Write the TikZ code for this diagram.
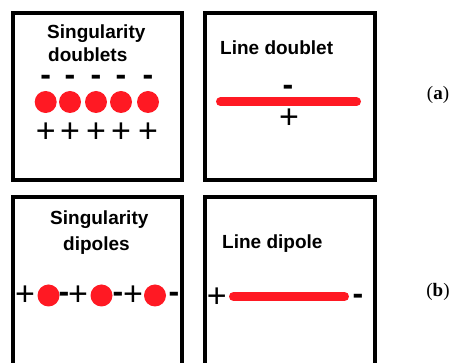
\documentclass[tikz,border=0pt]{standalone}
\usepackage{fontspec}
\newfontfamily\arialf{Liberation Sans}
\newfontfamily\seriff{Liberation Serif}
\definecolor{dotred}{RGB}{255,25,35}
\tikzset{
  frame/.style={draw=black, line width=4pt},
  title/.style={anchor=base west, inner sep=0pt, font=\arialf\bfseries\fontsize{19}{19}\selectfont},
  plussign/.style={inner sep=0pt, font=\arialf\fontsize{34}{34}\selectfont},
  minussign/.style={anchor=north, inner sep=0pt, font=\arialf\bfseries\fontsize{32}{32}\selectfont},
  dot/.style={circle, fill=dotred, minimum size=22pt, inner sep=0pt},
  redline/.style={draw=dotred, line width=9pt, line cap=round},
  panellabel/.style={inner sep=0pt, font=\seriff\fontsize{19}{19}\selectfont}
}
\begin{document}
\begin{tikzpicture}[x=1pt,y=-1pt]
\useasboundingbox (0,0) rectangle (456,363);
\clip (0,0) rectangle (456,363);
\fill[white] (0,0) rectangle (456,363);
% frames
\draw[frame] (12.5,13.5) rectangle (181.5,180.5);
\draw[frame] (204.5,13.5) rectangle (374.5,180.5);
\draw[frame] (12.5,197.5) rectangle (181.5,365);
\draw[frame] (204.5,197.5) rectangle (374.5,365);
% box 1
\node[title] (t1a) at (47,39) {Singularity};
\node[title] (t1b) at (48,61.5) {doublets};
\foreach \x [count=\i] in {45.7,70,96,121,148}{
  \node[minussign] (m1\i) at (\x,75) {-};
  \node[dot] (d1\i) at (\x,102) {};
  \node[plussign] (p1\i) at (\x,133) {+};
}
% box 2
\node[title] (t2) at (220,55) {Line doublet};
\coordinate (l2a) at (220.5,101.7);
\coordinate (l2b) at (356.5,101.7);
\draw[redline] (l2a) -- (l2b);
\node[minussign] (m2) at (288,85) {-};
\node[plussign] (p2) at (289,119) {+};
% box 3
\node[title] (t3a) at (50,225) {Singularity};
\node[title] (t3b) at (63,250.5) {dipoles};
\foreach \xp/\xd/\xm [count=\i] in {25/48.5/64, 78/101.5/118, 133/155/174}{
  \node[plussign] (p3\i) at (\xp,295.5) {+};
  \node[dot] (d3\i) at (\xd,295.5) {};
  \node[minussign] (m3\i) at (\xm,292) {-};
}
% box 4
\node[title] (t4) at (222,248.3) {Line dipole};
\coordinate (l4a) at (233.5,296.5);
\coordinate (l4b) at (344.5,296.5);
\draw[redline] (l4a) -- (l4b);
\node[plussign] (p4) at (216.7,297.5) {+};
\node[minussign] (m4) at (358,294.5) {-};
% panel labels
\node[panellabel] (la) at (438,95) {(\textbf{a})};
\node[panellabel] (lb) at (438,292) {(\textbf{b})};
\end{tikzpicture}
\end{document}
